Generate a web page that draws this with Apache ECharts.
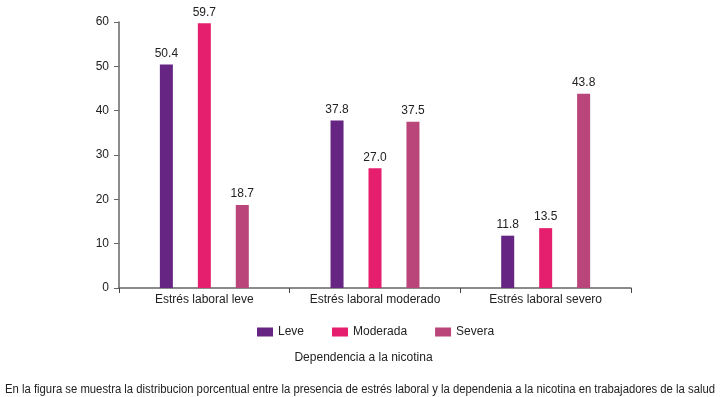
<!DOCTYPE html>
<html>
<head>
<meta charset="utf-8">
<script src="https://cdn.jsdelivr.net/npm/echarts@6/dist/echarts.min.js"></script>
<style>
  html, body { margin: 0; padding: 0; background: #fff; }
  #chart { width: 727px; height: 397px; }
</style>
</head>
<body>
<div id="chart"></div>
<script>
const categories = ['Estrés laboral leve', 'Estrés laboral moderado', 'Estrés laboral severo']
const leve = [50.4, 37.8, 11.8]
const moderada = [59.7, 27.0, 13.5]
const severa = [18.7, 37.5, 43.8]
const seriesNames = ['Leve', 'Moderada', 'Severa']
const colors = ['#662483', '#e61e6e', '#b9457a']
const caption = 'En la figura se muestra la distribucion porcentual entre la presencia de estrés laboral y la dependenia a la nicotina en trabajadores de la salud'

const chart = echarts.init(document.getElementById('chart'))

// caption is drawn in a condensed face in the original, squeeze it to fit
const ctx = document.createElement('canvas').getContext('2d')
ctx.font = '12px "Liberation Sans"'
const captionScale = 710 / ctx.measureText(caption).width

const labelStyle = {
  show: true,
  position: 'top',
  distance: 5,
  color: '#222',
  fontSize: 12,
  formatter: (p) => p.value.toFixed(1)
}

function makeSeries(name, data, color) {
  return {
    name: name,
    type: 'bar',
    data: data,
    barWidth: 13,
    barGap: '192%',
    itemStyle: { color: color },
    label: labelStyle
  }
}

chart.setOption({
  animation: false,
  textStyle: { fontFamily: 'Liberation Sans, Arial' },
  title: {
    text: 'Dependencia a la nicotina',
    left: 'center',
    top: 347,
    textStyle: { fontSize: 12, fontWeight: 'normal', color: '#222' }
  },
  graphic: [
    {
      type: 'text',
      left: 5,
      top: 384,
      scaleX: captionScale,
      style: {
        text: caption,
        font: '12px "Liberation Sans"',
        fill: '#222'
      }
    }
  ],
  legend: {
    data: seriesNames,
    left: 252,
    top: 321,
    itemWidth: 16,
    itemHeight: 9,
    itemGap: 28,
    icon: 'rect',
    textStyle: { fontSize: 12, color: '#222' }
  },
  grid: {
    left: 119,
    right: 96,
    top: 22,
    bottom: 109
  },
  xAxis: {
    type: 'category',
    data: categories,
    axisLine: { lineStyle: { color: '#666', width: 1.5 } },
    axisTick: { show: true, length: 5, lineStyle: { color: '#444' } },
    axisLabel: { color: '#222', fontSize: 12, margin: 6 }
  },
  yAxis: {
    type: 'value',
    min: 0,
    max: 60,
    interval: 10,
    axisLine: { show: true, lineStyle: { color: '#666', width: 1.5 } },
    axisTick: { show: true, length: 5, lineStyle: { color: '#666' } },
    axisLabel: { color: '#222', fontSize: 12, margin: 10 },
    splitLine: { show: false }
  },
  series: [
    makeSeries(seriesNames[0], leve, colors[0]),
    makeSeries(seriesNames[1], moderada, colors[1]),
    makeSeries(seriesNames[2], severa, colors[2])
  ]
})
</script>
</body>
</html>
